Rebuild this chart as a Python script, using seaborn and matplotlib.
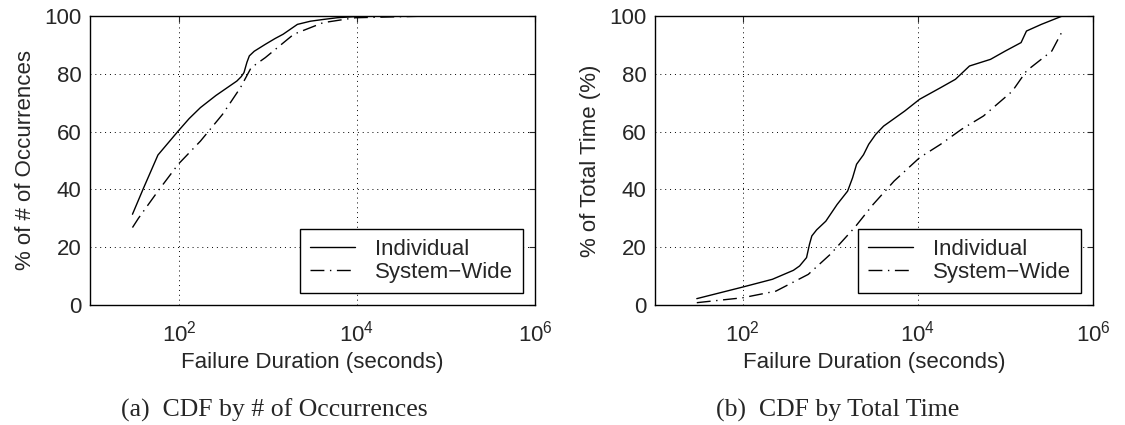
import numpy as np
import pandas as pd
import matplotlib
matplotlib.use("Agg")
import matplotlib.pyplot as plt
import seaborn as sns

# CDF by number of occurrences (duration in seconds, cumulative %)
occ_ind_x = [30, 40, 58, 98, 130, 174, 260, 447, 500, 537, 580, 617, 700, 933,
             1200, 1480, 2140, 3000, 4170, 6000, 9550, 26300, 150000]
occ_ind_y = [31.4, 40.5, 51.9, 60.2, 64.5, 68.3, 72.5, 77.5, 79.0, 80.4, 84.0, 86.2,
             87.8, 90.2, 92.2, 93.7, 97.1, 98.2, 98.8, 99.4, 99.8, 100, 100]
occ_sys_x = [30, 35, 58, 98, 174, 309, 490, 646, 933, 1950, 4170, 9550, 67600, 150000]
occ_sys_y = [26.8, 30.0, 39.4, 48.7, 56.7, 66.0, 75.2, 82.1, 85.6, 93.7, 97.7, 99.4, 100, 100]

# CDF by total time
tt_ind_x = [30, 100, 219, 380, 447, 537, 580, 617, 700, 891, 1200, 1580, 1800, 2000,
            2400, 2750, 3300, 4070, 7080, 10500, 18200, 26900, 38900, 67600, 100000,
            151000, 174000, 257000, 447000]
tt_ind_y = [2.2, 6.2, 8.9, 12.0, 13.5, 16.4, 21.0, 23.9, 26.0, 29.0, 34.8, 39.4, 44.0,
            48.7, 52.0, 55.6, 59.0, 61.9, 67.1, 71.2, 75.2, 78.1, 82.7, 85.0, 87.9,
            90.8, 94.8, 97.1, 100]
tt_sys_x = [30, 100, 240, 562, 1000, 1900, 3090, 5370, 10500, 18200, 31600,
            56200, 120000, 174000, 339000, 447000]
tt_sys_y = [0.8, 2.5, 4.8, 10.6, 17.5, 26.8, 34.8, 42.9, 51.0, 55.6, 60.8,
            65.4, 74.0, 81.0, 87.9, 94.8]

series_names = ["Individual", "System\u2212Wide"]
y_labels = ["% of # of Occurrences", "% of Total Time (%)"]
x_label = "Failure Duration (seconds)"
captions = ["(a)  CDF by # of Occurrences", "(b)  CDF by Total Time"]

sns.set_style("white")
plt.rcParams["font.family"] = ["Liberation Sans", "DejaVu Sans"]
plt.rcParams["mathtext.fontset"] = "custom"
plt.rcParams["mathtext.rm"] = "Liberation Sans"
plt.rcParams["mathtext.it"] = "Liberation Sans"

FS = 16

fig = plt.figure(figsize=(11.25, 4.25), dpi=100)
ax_a = fig.add_axes([90 / 1125, 1 - 305 / 425, 445 / 1125, 289 / 425])
ax_b = fig.add_axes([655 / 1125, 1 - 305 / 425, 438 / 1125, 289 / 425])

dashdot = (0, (10, 4, 1, 4))

panels = [
    (ax_a, occ_ind_x, occ_ind_y, occ_sys_x, occ_sys_y),
    (ax_b, tt_ind_x, tt_ind_y, tt_sys_x, tt_sys_y),
]
caption_x = [274, 838]

for i, (ax, ix, iy, sx, sy) in enumerate(panels):
    df_i = pd.DataFrame({"dur": ix, "pct": iy})
    df_s = pd.DataFrame({"dur": sx, "pct": sy})
    sns.lineplot(data=df_i, x="dur", y="pct", ax=ax, color="black", lw=1.0,
                 label=series_names[0], sort=False)
    sns.lineplot(data=df_s, x="dur", y="pct", ax=ax, color="black", lw=1.0,
                 linestyle=dashdot, label=series_names[1], sort=False)
    ax.set_xscale("log")
    ax.set_xlim(10, 1e6)
    ax.set_ylim(0, 100)
    ax.set_xticks([1e2, 1e4, 1e6])
    ax.set_xticklabels([r"$10^2$", r"$10^4$", r"$10^6$"])
    ax.xaxis.set_minor_locator(matplotlib.ticker.NullLocator())
    ax.set_yticks([0, 20, 40, 60, 80, 100])
    ax.tick_params(direction="in", length=4, width=0.8, labelsize=FS, pad=6,
                   top=True, right=True)
    ax.tick_params(axis="x", pad=11)
    ax.grid(True, color="black", linestyle=(0, (1, 4)), linewidth=0.7)
    for sp in ax.spines.values():
        sp.set_color("black")
        sp.set_linewidth(1.0)
    ax.set_xlabel(x_label, fontsize=FS, labelpad=4)
    ax.set_ylabel(y_labels[i], fontsize=FS, labelpad=6)
    leg = ax.legend(loc="lower right", fontsize=FS, frameon=True, fancybox=False,
                    edgecolor="black", framealpha=1, handlelength=2.0,
                    handletextpad=0.9, borderaxespad=0.55, labelspacing=0.1,
                    borderpad=0.45)
    leg.get_frame().set_linewidth(1.0)
    fig.text(caption_x[i] / 1125, 1 - 410 / 425, captions[i], ha="center",
             va="center", fontsize=18.5, family=["Liberation Serif", "DejaVu Serif"])

fig.savefig("out.png", dpi=100, facecolor="white")
